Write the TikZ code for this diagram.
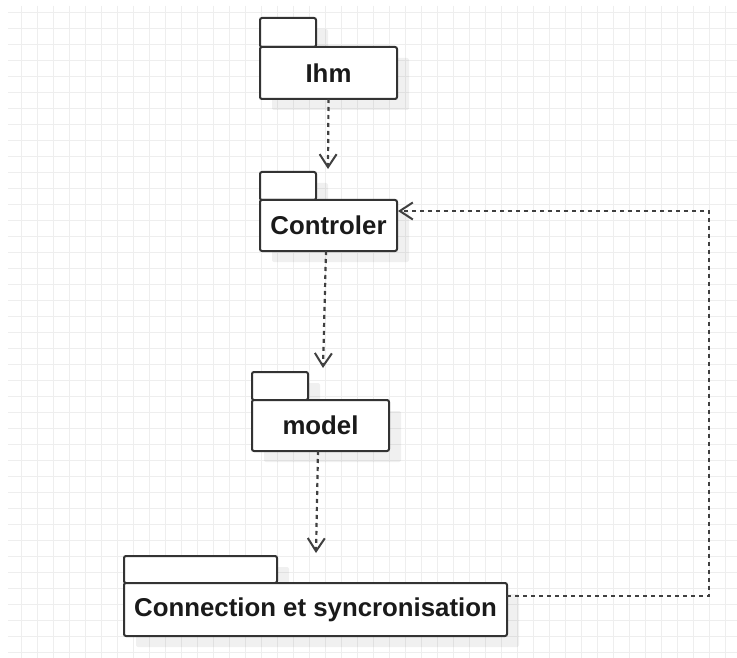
\documentclass[tikz,border=0pt]{standalone}
\usepackage{fontspec}
\setmainfont{Liberation Sans}
\usetikzlibrary{arrows.meta,shadows}
\definecolor{gridc}{HTML}{EEEEEE}
\definecolor{boxc}{HTML}{333333}
\definecolor{depc}{HTML}{404040}
\definecolor{txtc}{HTML}{1A1A1A}
\begin{document}
\begin{tikzpicture}[x=1pt,y=-1pt,
  pkgpart/.style={draw=boxc, line width=2pt, fill=white, rounded corners=2pt,
    anchor=north west, inner sep=0pt, outer sep=0pt,
    drop shadow={shadow xshift=12pt, shadow yshift=-11pt, opacity=0.06, fill=black}},
  pkgname/.style={pkgpart, text=txtc, font=\fontsize{25.8}{31}\selectfont\bfseries},
  dep/.style={draw=depc, line width=2.2pt, dash pattern=on 4pt off 4pt,
    -{Straight Barb[length=13pt,width=17pt,line width=2pt]}}]
\useasboundingbox (0,0) rectangle (737,658);
\fill[white] (0,0) rectangle (737,658);
% grid
\foreach \k in {0,...,44} {\draw[gridc, line width=1.5pt] ({21.7+16*\k},6) -- ({21.7+16*\k},658);}
\foreach \k in {0,...,40} {\draw[gridc, line width=1.5pt] (8,{12.7+16*\k}) -- (737,{12.7+16*\k});}
% packages
\node[pkgpart, minimum width=56pt, minimum height=29pt] (ihmtab) at (260,18) {};
\node[pkgname, minimum width=137pt, minimum height=52pt] (ihm) at (260,47) {Ihm};
\node[pkgpart, minimum width=56pt, minimum height=28pt] (ctrltab) at (260,172) {};
\node[pkgname, minimum width=137pt, minimum height=51pt] (ctrl) at (260,200) {Controler};
\node[pkgpart, minimum width=56pt, minimum height=28pt] (modeltab) at (252,372) {};
\node[pkgname, minimum width=137pt, minimum height=51pt] (model) at (252,400) {model};
\node[pkgpart, minimum width=153pt, minimum height=27pt] (conntab) at (124,556) {};
\node[pkgname, minimum width=383pt, minimum height=53pt] (conn) at (124,583) {Connection et syncronisation};
% connector ends
\coordinate (t1) at (328,169);
\coordinate (t2) at (323,368);
\coordinate (t3) at (316,553);
\coordinate (fb1) at (709,596);
\coordinate (fb2) at (709,211);
% dependencies
\draw[dep] (ihm.south) -- (t1);
\draw[dep] ([xshift=-2.5pt]ctrl.south) -- (t2);
\draw[dep] ([xshift=-2.5pt]model.south) -- (t3);
\draw[dep] (conn.east |- fb1) -- (fb1) -- (fb2) -- ([xshift=1pt]ctrl.east |- fb2);
\end{tikzpicture}
\end{document}
